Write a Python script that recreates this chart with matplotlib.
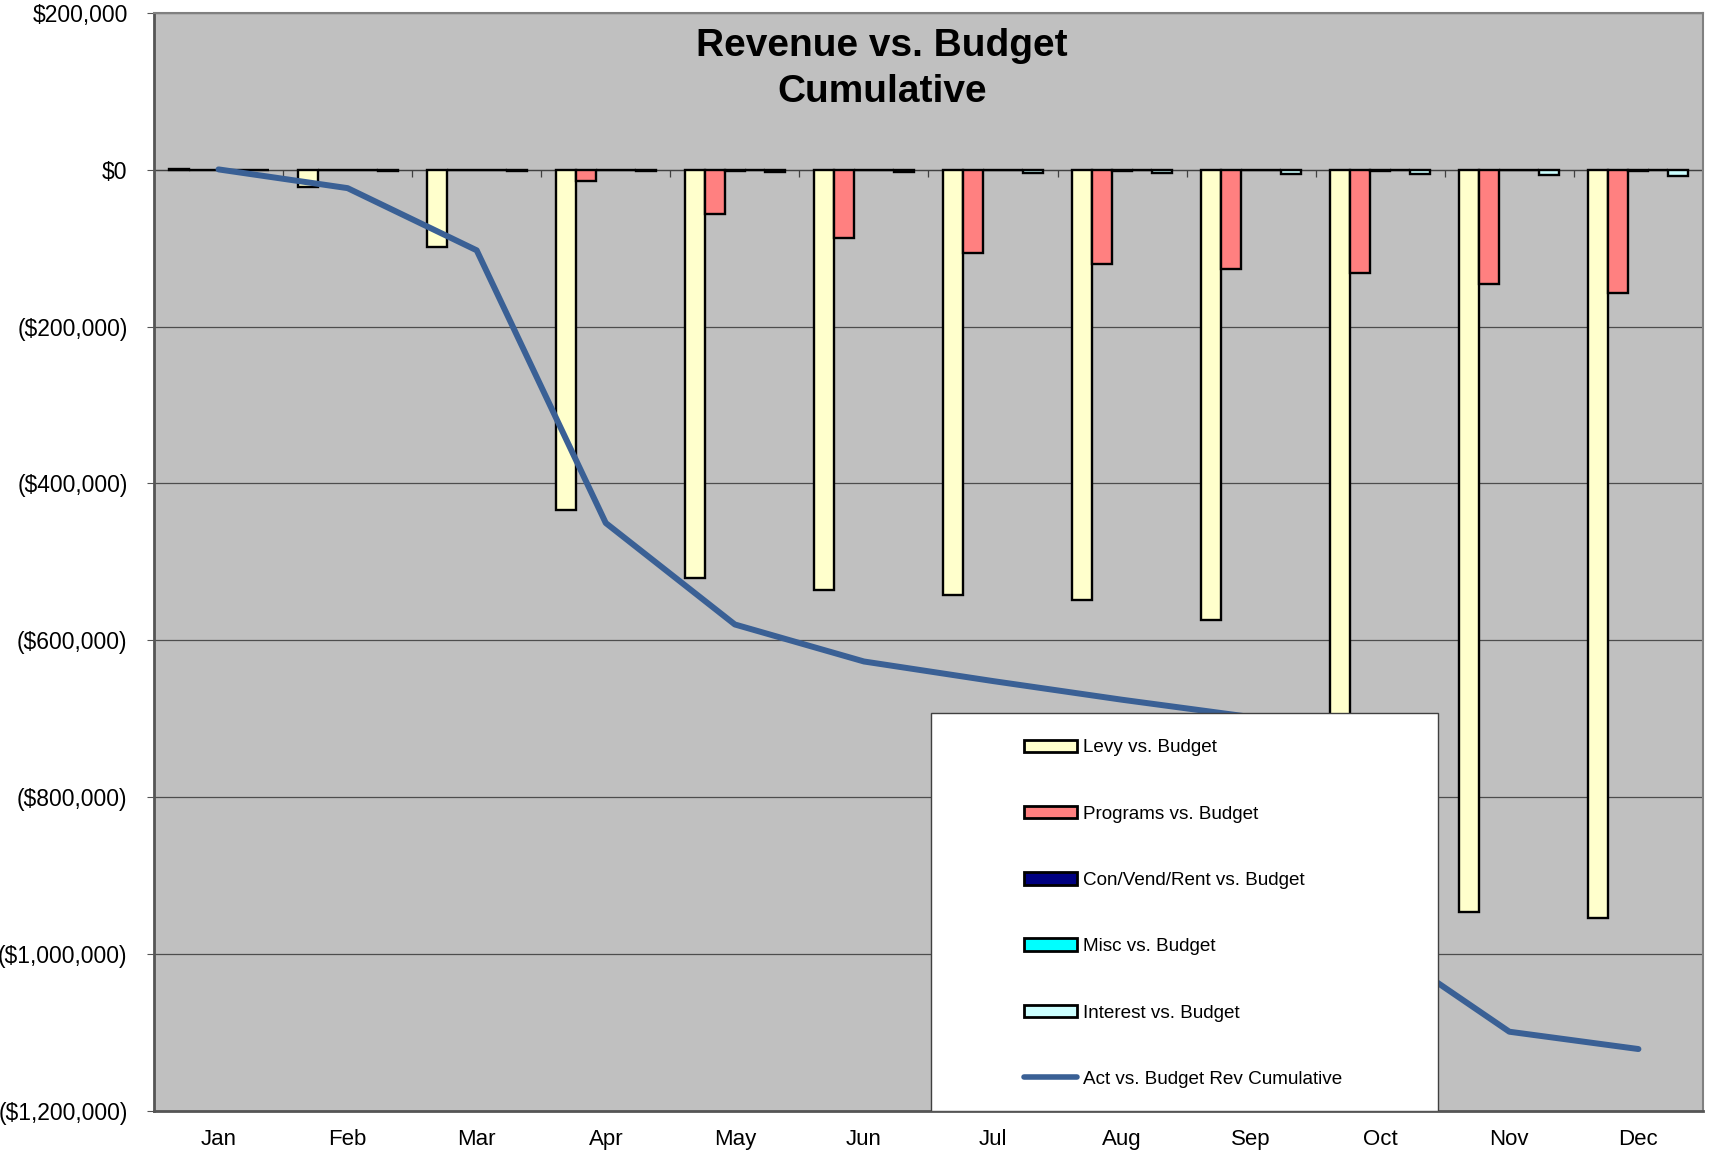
import matplotlib
matplotlib.use('Agg')
import matplotlib.pyplot as plt
from matplotlib.patches import Patch, Rectangle
from matplotlib.lines import Line2D
from matplotlib.ticker import FuncFormatter, MultipleLocator
import numpy as np

plt.rcParams['font.family'] = ['Liberation Sans', 'DejaVu Sans']

# data
months = ['Jan', 'Feb', 'Mar', 'Apr', 'May', 'Jun', 'Jul', 'Aug', 'Sep', 'Oct', 'Nov', 'Dec']
levy = [800, -22300, -99000, -433800, -520000, -535400, -542300, -549300, -574300, -847000, -946300, -954800]
programs = [-500, -800, -900, -14300, -56500, -86700, -105500, -120000, -126300, -131900, -145800, -157000]
con_vend = [-700, -600, -800, -900, -1000, -900, -800, -1000, -900, -1000, -900, -1000]
misc = [-100, -100, -100, -200, -100, -200, -200, -300, -200, -300, -200, -300]
interest = [-600, -1000, -1500, -2000, -2500, -3000, -3800, -4500, -5200, -6000, -6800, -7500]
cumulative = [500, -23400, -102700, -450500, -579900, -627100, -652100, -675900, -698000, -987000, -1099300, -1121400]

series = [
    ('Levy vs. Budget', levy, '#FFFFCC'),
    ('Programs vs. Budget', programs, '#FF8080'),
    ('Con/Vend/Rent vs. Budget', con_vend, '#000080'),
    ('Misc vs. Budget', misc, '#00FFFF'),
    ('Interest vs. Budget', interest, '#CCFFFF'),
]
line_color = '#3A6095'

fig = plt.figure(figsize=(17.11, 11.59), dpi=100)
ax = fig.add_axes([0.090, 0.0417, 0.9053, 0.9471])
ax.set_facecolor('#C0C0C0')

x = np.arange(len(months))
w = 0.155
for i, (name, vals, col) in enumerate(series):
    ax.bar(x + (i - 2) * w, vals, width=w, color=col, edgecolor='black', linewidth=1.7, zorder=2)

ax.plot(x, cumulative, color=line_color, linewidth=4.3, solid_capstyle='round', zorder=3)

ax.set_xlim(-0.5, 11.5)
ax.set_ylim(-1200000, 200000)
ax.yaxis.set_major_locator(MultipleLocator(200000))

def money(v, pos):
    if v < 0:
        return f'(${-v:,.0f})'
    return f'${v:,.0f}'

ax.yaxis.set_major_formatter(FuncFormatter(money))
ax.grid(axis='y', color='#4d4d4d', linewidth=0.9)
ax.set_axisbelow(True)

# category axis sits at zero with ticks between months
ax.axhline(0, color='#404040', linewidth=0.9, zorder=1.5)
ax.vlines(x[:-1] + 0.5, -9000, 0, color='#404040', linewidth=0.9, zorder=1.5)

ax.set_xticks(x)
ax.set_xticklabels(months)
ax.tick_params(axis='x', length=0, pad=13.5, labelsize=16)
ax.tick_params(axis='y', length=5, pad=14, labelsize=16.5, color='#555555', direction='out')

for s in ['top', 'right']:
    ax.spines[s].set_color('#808080')
    ax.spines[s].set_linewidth(1.5)
for s in ['left', 'bottom']:
    ax.spines[s].set_color('#555555')
    ax.spines[s].set_linewidth(2)

fig.text(0.5155, 1 - 46 / 1159, 'Revenue vs. Budget', ha='center', va='center',
         fontsize=28, fontweight='bold')
fig.text(0.5155, 1 - 92 / 1159, 'Cumulative', ha='center', va='center',
         fontsize=28, fontweight='bold')

# legend box
ax.add_patch(Rectangle((0.5016, 0.0), 0.3273, 0.3626, transform=ax.transAxes,
                       facecolor='white', edgecolor='#404040', linewidth=1, zorder=10))
handles = [Patch(facecolor=col, edgecolor='black', linewidth=2) for _, _, col in series]
handles.append(Line2D([], [], color=line_color, linewidth=4, solid_capstyle='round'))
labels = [name for name, _, _ in series] + ['Act vs. Budget Rev Cumulative']
leg = ax.legend(handles, labels, loc='center left', bbox_to_anchor=(0.5617, 0.1795),
                frameon=False, fontsize=13.6, handlelength=2.8, handleheight=0.63,
                handletextpad=0.32, labelspacing=2.61, borderpad=0, borderaxespad=0)
leg.set_zorder(11)

fig.savefig('out.png', dpi=100)
